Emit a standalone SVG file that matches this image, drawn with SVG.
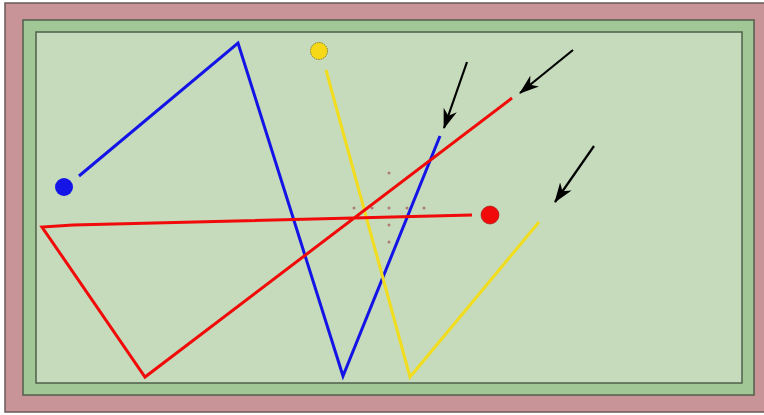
<svg xmlns="http://www.w3.org/2000/svg" width="764" height="415" viewBox="0 0 764 415">
<defs>
<style>
.shot{fill:none;stroke-width:3;stroke-linejoin:miter;stroke-linecap:butt}
.arrow{fill:none;stroke:#000;stroke-width:2.2;marker-end:url(#ah)}
.dot{fill:#b07a78}
</style>
<marker id="ah" viewBox="0 0 20 14" refX="19" refY="7" markerWidth="20" markerHeight="14" markerUnits="userSpaceOnUse" orient="auto">
<path d="M0,0 L20,7 L0,14 L6,7 Z" fill="#000"/>
</marker>
</defs>
<rect width="764" height="415" fill="#ffffff"/>
<g id="table">
<rect x="5" y="3" width="765" height="409" fill="#c89497" stroke="#6a5a5a" stroke-width="1.5"/>
<rect x="23" y="20" width="731" height="375" fill="#a2c796" stroke="#4f5f4a" stroke-width="1.5"/>
<rect x="36" y="32" width="706" height="351" fill="#c5dbbb" stroke="#4f5f4a" stroke-width="1.5"/>
</g>
<g id="markers">
<circle class="dot" cx="389" cy="173" r="1.5"/>
<circle class="dot" cx="354" cy="208" r="1.5"/>
<circle class="dot" cx="372" cy="208" r="1.5"/>
<circle class="dot" cx="389" cy="208" r="1.5"/>
<circle class="dot" cx="407" cy="208" r="1.5"/>
<circle class="dot" cx="424" cy="208" r="1.5"/>
<circle class="dot" cx="389" cy="225" r="1.5"/>
<circle class="dot" cx="389" cy="242" r="1.5"/>
</g>
<g id="connectors">
<polyline id="blue-path" class="shot" stroke="#1414e6" points="79,176 238,43 343,376 440,136"/>
<polyline id="yellow-path" class="shot" stroke="#f2dc1e" points="326,70 410,377 539,222"/>
<polyline id="red-path" class="shot" stroke="#f00a0a" points="472,215 73,225 42,227 145,377 512,98"/>
<line class="arrow" x1="467" y1="62" x2="444" y2="128"/>
<line class="arrow" x1="573" y1="50" x2="520" y2="93"/>
<line class="arrow" x1="594" y1="146" x2="555" y2="202"/>
</g>
<g id="ball-blue"><circle cx="64" cy="187" r="9" fill="#1414e6"/></g>
<g id="ball-yellow"><circle cx="319" cy="51" r="8.5" fill="#f7d816" stroke="#8a7a20" stroke-width="1" stroke-dasharray="1.5 1"/></g>
<g id="ball-red"><circle cx="490" cy="215" r="9" fill="#f00a0a" stroke="#a01010" stroke-width="0.6"/></g>
</svg>
